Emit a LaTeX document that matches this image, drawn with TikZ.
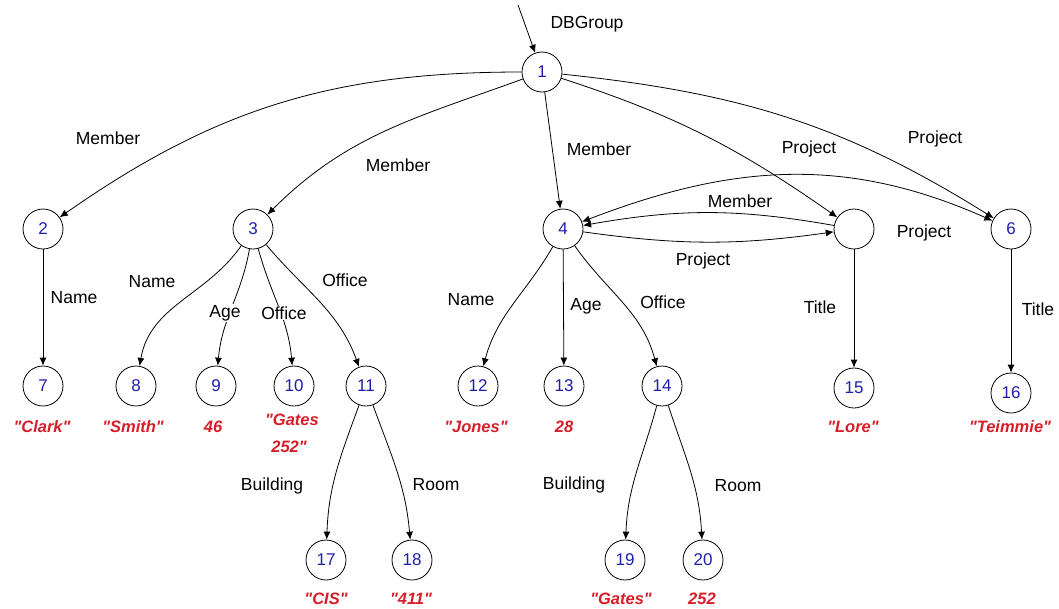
\documentclass[tikz,border=0pt]{standalone}
\usepackage{fontspec}
\setmainfont{Liberation Sans}[Ligatures=TeXOff]
\usetikzlibrary{arrows.meta}
\definecolor{numblue}{RGB}{30,30,170}
\definecolor{valred}{RGB}{215,30,40}
\begin{document}
\begin{tikzpicture}[x=1pt,y=1pt,
  obj/.style={circle,draw,line width=0.8pt,minimum size=40pt,inner sep=0pt,text=numblue,font=\fontsize{17}{18}\selectfont},
  lbl/.style={font=\fontsize{17.5}{19}\selectfont,inner sep=1pt},
  val/.style={font=\fontsize{16.5}{18}\selectfont\bfseries\itshape,text=valred,inner sep=1pt},
  edge/.style={line width=0.8pt,-{Latex[length=8pt,width=7pt]}},
  biedge/.style={line width=0.8pt,{Latex[length=8pt,width=7pt]}-{Latex[length=8pt,width=7pt]}},
]
\useasboundingbox (0,0) rectangle (1059,-608);
% object nodes
\node[obj] (n1) at (542,-72) {1};
\node[obj] (n2) at (43,-229) {2};
\node[obj] (n3) at (253,-229) {3};
\node[obj] (n4) at (563,-229) {4};
\node[obj] (n5) at (854,-229) {};
\node[obj] (n6) at (1011,-229) {6};
\node[obj] (n7) at (43,-386) {7};
\node[obj] (n8) at (136,-386) {8};
\node[obj] (n9) at (216,-386) {9};
\node[obj] (n10) at (294,-386) {10};
\node[obj] (n11) at (366,-386) {11};
\node[obj] (n12) at (478,-386) {12};
\node[obj] (n13) at (564,-386) {13};
\node[obj] (n14) at (662,-386) {14};
\node[obj] (n15) at (854,-388) {15};
\node[obj] (n16) at (1011,-393) {16};
\node[obj] (n17) at (326,-560) {17};
\node[obj] (n18) at (412,-560) {18};
\node[obj] (n19) at (625,-560) {19};
\node[obj] (n20) at (703,-560) {20};
% values
\node[val] (v7) at (42,-427) {"Clark"};
\node[val] (v8) at (133,-427) {"Smith"};
\node[val] (v9) at (213,-427) {46};
\node[val] (v10a) at (292,-420) {"Gates};
\node[val] (v10b) at (289,-447) {252"};
\node[val] (v12) at (476,-427) {"Jones"};
\node[val] (v13) at (564,-427) {28};
\node[val] (v15) at (853,-427) {"Lore"};
\node[val] (v16) at (1010,-427) {"Teimmie"};
\node[val] (v17) at (326,-599) {"CIS"};
\node[val] (v18) at (411,-599) {"411"};
\node[val] (v19) at (621,-599) {"Gates"};
\node[val] (v20) at (702,-599) {252};
% entry
\coordinate (entry) at (518,-5);
\node[lbl] (lroot) at (587,-24) {DBGroup};
\draw[edge] (entry) -- (n1);
% edges from root
\draw[edge] (n1) to[out=180,in=35] (n2);
\draw[edge] (n1) to[out=200,in=45] (n3);
\draw[edge] (n1) -- (n4);
\draw[edge] (n1) to[out=-18,in=145] (n5);
\draw[edge] (n1) to[out=-6,in=148] (n6);
% level 2
\draw[edge] (n2) -- (n7);
\draw[edge] (n3) to[out=235,in=80] (n8);
\draw[edge] (n3) to[out=-100,in=85] (n9);
\draw[edge] (n3) to[out=-75,in=95] (n10);
\draw[edge] (n3) to[out=-50,in=110] (n11);
\draw[edge] (n4) to[out=240,in=75] (n12);
\draw[edge] (n4) -- (n13);
\draw[edge] (n4) to[out=-55,in=105] (n14);
\draw[edge] (n5) -- (n15);
\draw[edge] (n6) -- (n16);
% between 4, 5, 6
\draw[edge] (n5) to[bend right=10] (n4);
\draw[edge] (n4) to[bend right=8] (n5);
\draw[biedge] (n4) to[out=21,in=156] (n6);
% level 3
\draw[edge] (n11) to[out=-110,in=88] (n17);
\draw[edge] (n11) to[out=-70,in=95] (n18);
\draw[edge] (n14) to[out=-105,in=88] (n19);
\draw[edge] (n14) to[out=-72,in=93] (n20);
% edge labels
\node[lbl] (l12) at (108,-138) {Member};
\node[lbl] (l13) at (398,-165) {Member};
\node[lbl] (l14) at (599,-149) {Member};
\node[lbl] (l15) at (809,-149) {Project};
\node[lbl] (l16) at (935,-139) {Project};
\node[lbl] (l54) at (740,-201) {Member};
\node[lbl] (l45) at (703,-261) {Project};
\node[lbl] (l46) at (924,-233) {Project};
\node[lbl] (l27) at (74,-298) {Name};
\node[lbl] (l38) at (152,-282) {Name};
\node[lbl,fill=white] (l39) at (225,-313) {Age};
\node[lbl,fill=white] (l310) at (284,-313) {Office};
\node[lbl] (l311) at (345,-280) {Office};
\node[lbl] (l412) at (471,-300) {Name};
\node[lbl] (l413) at (586,-306) {Age};
\node[lbl] (l414) at (663,-302) {Office};
\node[lbl] (l515) at (820,-307) {Title};
\node[lbl] (l616) at (1038,-309) {Title};
\node[lbl] (l1117) at (272,-486) {Building};
\node[lbl] (l1118) at (436,-485) {Room};
\node[lbl] (l1419) at (574,-485) {Building};
\node[lbl] (l1420) at (738,-486) {Room};
\end{tikzpicture}
\end{document}
